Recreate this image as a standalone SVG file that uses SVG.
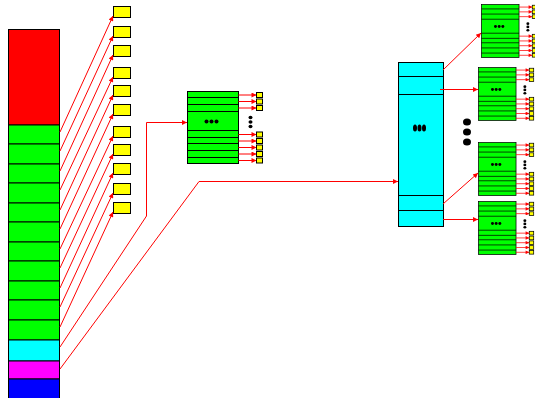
<svg xmlns="http://www.w3.org/2000/svg" xmlns:xlink="http://www.w3.org/1999/xlink" width="535" height="398" viewBox="0 0 535 398">
<style>
.cell{stroke:#000;stroke-width:1}
.g{fill:#00ff00}
.y{fill:#ffff00;stroke:#000;stroke-width:1}
.c{fill:#00ffff}
.ln{stroke:#000;stroke-width:1}
.ar{fill:none;stroke:#ff0000;stroke-width:1;marker-end:url(#ah)}
.dot{fill:#000}
</style>
<defs>
<marker id="ah" viewBox="0 0 10 10" refX="10" refY="5" markerWidth="7" markerHeight="5" markerUnits="userSpaceOnUse" orient="auto">
<path d="M0,0 L10,5 L0,10 z" fill="#ff0000"/>
</marker>
<g id="tbl">
<rect x="0" y="0" width="51" height="72" class="g cell"/>
<path class="ln" d="M0,6H51M0,13H51M0,20H51M0,39H51M0,46H51M0,52H51M0,59H51M0,66H51"/>
<circle class="dot" cx="19" cy="30" r="2"/>
<circle class="dot" cx="24" cy="30" r="2"/>
<circle class="dot" cx="29" cy="30" r="2"/>
<ellipse class="dot" cx="63" cy="26" rx="2" ry="1.8"/>
<ellipse class="dot" cx="63" cy="30.5" rx="2" ry="1.8"/>
<ellipse class="dot" cx="63" cy="35" rx="2" ry="1.8"/>
<path class="ar" d="M51,3.5H69"/>
<path class="ar" d="M51,10H69"/>
<path class="ar" d="M51,16.5H69"/>
<path class="ar" d="M51,43H69"/>
<path class="ar" d="M51,49.5H69"/>
<path class="ar" d="M51,56H69"/>
<path class="ar" d="M51,62.5H69"/>
<path class="ar" d="M51,69H69"/>
<rect class="y" x="69" y="1" width="6" height="5"/>
<rect class="y" x="69" y="7.5" width="6" height="5"/>
<rect class="y" x="69" y="14" width="6" height="5"/>
<rect class="y" x="69" y="40.5" width="6" height="5"/>
<rect class="y" x="69" y="47" width="6" height="5"/>
<rect class="y" x="69" y="53.5" width="6" height="5"/>
<rect class="y" x="69" y="60" width="6" height="5"/>
<rect class="y" x="69" y="66.5" width="6" height="5"/>
</g>
</defs>

<g id="column">
<rect x="8.5" y="29.5" width="51" height="95.5" fill="#ff0000" class="cell"/>
<rect x="8.5" y="125" width="51" height="19" class="g cell"/>
<rect x="8.5" y="144" width="51" height="20" class="g cell"/>
<rect x="8.5" y="164" width="51" height="19" class="g cell"/>
<rect x="8.5" y="183" width="51" height="20" class="g cell"/>
<rect x="8.5" y="203" width="51" height="19" class="g cell"/>
<rect x="8.5" y="222" width="51" height="20" class="g cell"/>
<rect x="8.5" y="242" width="51" height="19" class="g cell"/>
<rect x="8.5" y="261" width="51" height="20" class="g cell"/>
<rect x="8.5" y="281" width="51" height="19" class="g cell"/>
<rect x="8.5" y="300" width="51" height="20" class="g cell"/>
<rect x="8.5" y="320" width="51" height="20" class="g cell"/>
<rect x="8.5" y="340" width="51" height="21" class="c cell"/>
<rect x="8.5" y="361" width="51" height="18" fill="#ff00ff" class="cell"/>
<rect x="8.5" y="379" width="51" height="20" fill="#0000ff" class="cell"/>
</g>

<g id="boxes">
<rect class="y" x="113.5" y="6.5" width="17" height="11"/>
<rect class="y" x="113.5" y="26.5" width="17" height="11"/>
<rect class="y" x="113.5" y="45.5" width="17" height="11"/>
<rect class="y" x="113.5" y="67.5" width="17" height="11"/>
<rect class="y" x="113.5" y="85.5" width="17" height="11"/>
<rect class="y" x="113.5" y="104.5" width="17" height="11"/>
<rect class="y" x="113.5" y="126.5" width="17" height="11"/>
<rect class="y" x="113.5" y="144.5" width="17" height="11"/>
<rect class="y" x="113.5" y="163.5" width="17" height="11"/>
<rect class="y" x="113.5" y="183.5" width="17" height="11"/>
<rect class="y" x="113.5" y="202.5" width="17" height="11"/>
</g>

<g id="table-mid" transform="translate(187.5,91.5)">
<use xlink:href="#tbl"/>
</g>

<g id="big-cyan">
<rect x="398.5" y="62.5" width="45" height="164" class="c cell"/>
<path class="ln" d="M398.5,76.5H443.5M398.5,94.5H443.5M398.5,195.5H443.5M398.5,210.5H443.5"/>
<ellipse class="dot" cx="415" cy="128" rx="2" ry="3.5"/>
<ellipse class="dot" cx="419.5" cy="128" rx="2" ry="3.5"/>
<ellipse class="dot" cx="424" cy="128" rx="2" ry="3.5"/>
<ellipse class="dot" cx="467" cy="122" rx="4" ry="3.5"/>
<ellipse class="dot" cx="467" cy="132" rx="4" ry="3.5"/>
<ellipse class="dot" cx="467" cy="142" rx="4" ry="3.5"/>
</g>

<g id="table-r1" transform="translate(481.5,4.5) scale(0.736)"><use xlink:href="#tbl"/></g>
<g id="table-r2" transform="translate(478.5,67.5) scale(0.736)"><use xlink:href="#tbl"/></g>
<g id="table-r3" transform="translate(478.5,142.5) scale(0.736)"><use xlink:href="#tbl"/></g>
<g id="table-r4" transform="translate(478.5,201.5) scale(0.736)"><use xlink:href="#tbl"/></g>

<g id="connectors">
<path class="ar" d="M60,132L113,16"/>
<path class="ar" d="M60,151L113,36"/>
<path class="ar" d="M60,171L113,55"/>
<path class="ar" d="M60,190L113,77"/>
<path class="ar" d="M60,210L113,95"/>
<path class="ar" d="M60,229L113,114"/>
<path class="ar" d="M60,249L113,136"/>
<path class="ar" d="M60,268L113,154"/>
<path class="ar" d="M60,288L113,173"/>
<path class="ar" d="M60,307L113,193"/>
<path class="ar" d="M60,327L113,212"/>
<path class="ar" d="M60,347L146.5,216L146.5,122.5H187"/>
<path class="ar" d="M60,369L199,181.5H398"/>
<path class="ar" d="M443,70L481,33"/>
<path class="ar" d="M440,89.5H478"/>
<path class="ar" d="M443,204L478,173"/>
<path class="ar" d="M443,219.5H478"/>
</g>
</svg>
